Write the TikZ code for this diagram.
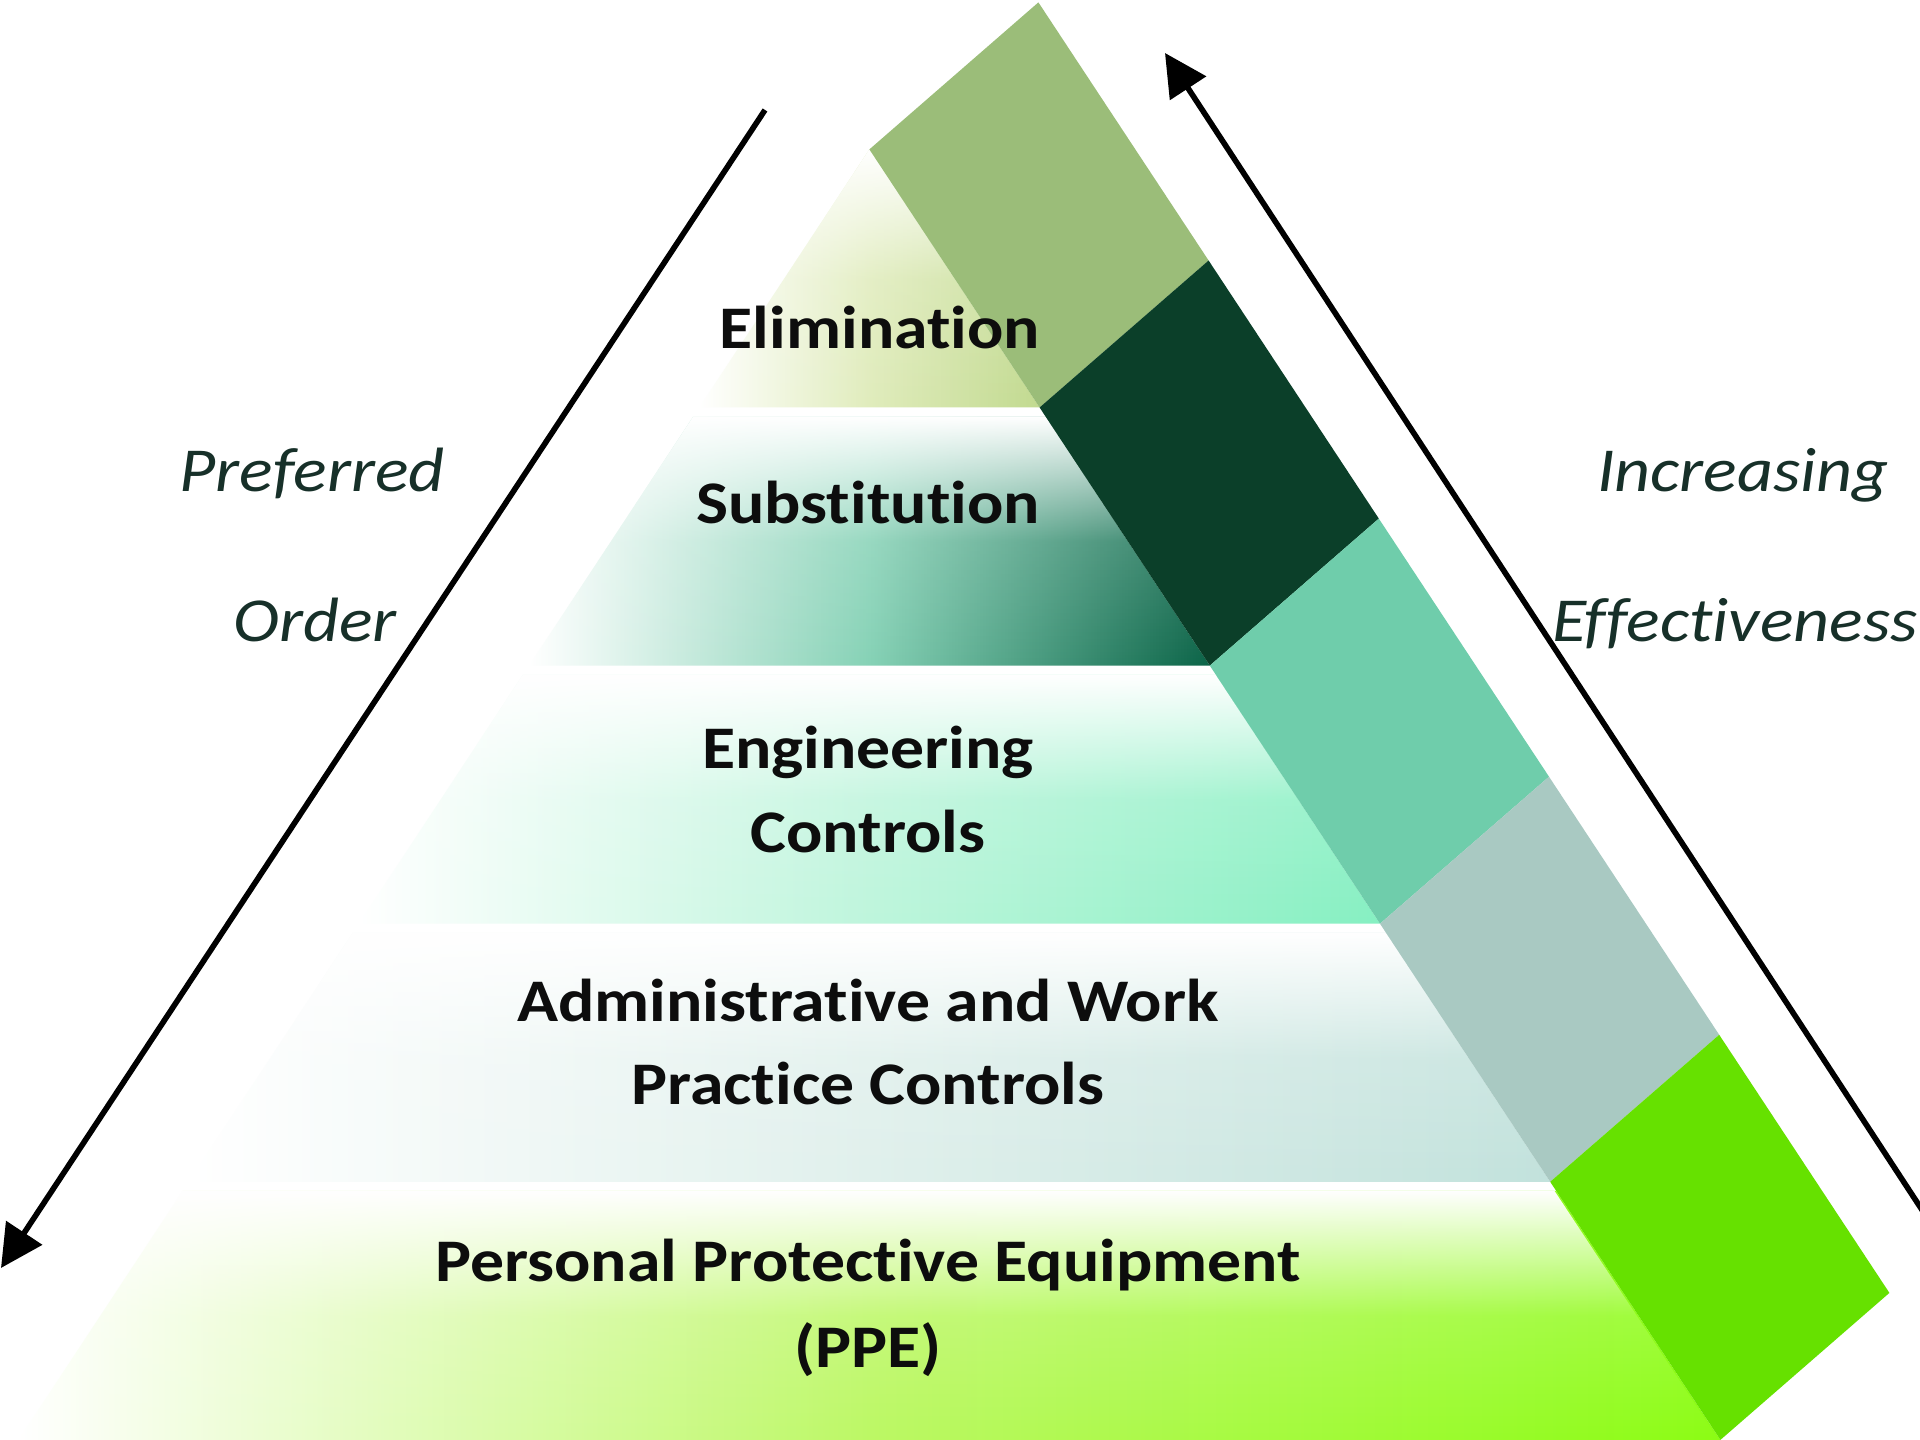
\documentclass[tikz,border=0pt]{standalone}
\usepackage{fontspec}
\setmainfont{Carlito}[FakeStretch=1.12, Ligatures=CommonOff]
\usepackage[dvipsnames, svgnames]{xcolor}
\usepackage{tikz}
\usetikzlibrary{arrows.meta}
\usetikzlibrary{calc}
\usetikzlibrary{fadings}

\definecolor{elimcol}{HTML}{C2DA90}
\definecolor{elimmid}{HTML}{E0ECBC}
\definecolor{substcol}{HTML}{0C6448}
\definecolor{substmid}{HTML}{86D2B6}
\definecolor{engcol}{HTML}{86F0C2}
\definecolor{engmid}{HTML}{BEF5DC}
\definecolor{admincol}{HTML}{C2E2DC}
\definecolor{adminmid}{HTML}{E0F0EC}
\definecolor{ppecol}{HTML}{8CFC14}
\definecolor{ppemid}{HTML}{BCF864}
\definecolor{bandA}{HTML}{9BBD79}
\definecolor{bandB}{HTML}{0B3F29}
\definecolor{bandC}{HTML}{6FCDAB}
\definecolor{bandD}{HTML}{A9C9C2}
\definecolor{bandE}{HTML}{66E100}
\definecolor{sidetext}{HTML}{173029}

% white at the top of a tier, clear from the middle down
\tikzfading[name=tierfade, top color=transparent!0, bottom color=transparent!100, middle color=transparent!85]

\tikzset{
  tierlabel/.style={font=\fontsize{17.2}{20}\selectfont\bfseries, text=black!95, inner sep=0pt, anchor=base},
  sidelabel/.style={font=\fontsize{17.8}{20}\selectfont\itshape, text=sidetext, inner sep=0pt, anchor=base},
  bigarrow/.style={line width=1.6pt, -{Triangle[length=12pt,width=12pt]}},
}

\begin{document}
\begin{tikzpicture}[x=0.01cm, y=-0.01cm]
\useasboundingbox (0,0) rectangle (1920,1440);
\clip (0,0) rectangle (1920,1440);
\fill[white] (0,0) rectangle (1920,1440);

% tiers of the pyramid, apex at (869.4,149.4), sides at slope 0.6594
\foreach \ytop/\ybot/\col/\mid in {149.4/407.5/elimcol/elimmid, 417/665.6/substcol/substmid, 675/923.7/engcol/engmid, 933/1181.8/admincol/adminmid, 1191/1440/ppecol/ppemid} {
  \pgfmathsetmacro{\dtop}{0.6594*(\ytop-149.4)}
  \pgfmathsetmacro{\dbot}{0.6594*(\ybot-149.4)}
  \shade[left color=white, right color=\col, middle color=\mid] % middle last, or it is reset
    (869.4-\dtop,\ytop) -- (869.4+\dtop,\ytop) -- (869.4+\dbot,\ybot) -- (869.4-\dbot,\ybot) -- cycle;
  \fill[white, path fading=tierfade]
    (869.4-\dtop,\ytop) -- (869.4+\dtop,\ytop) -- (869.4+\dbot,\ybot) -- (869.4-\dbot,\ybot) -- cycle;
}

% slanted strip of coloured blocks
\foreach \k/\col in {0/bandA, 1/bandB, 2/bandC, 3/bandD, 4/bandE} {
  \coordinate (L\k) at ($(869.4,149.4)+\k*(170.2,258.1)$);
  \coordinate (M\k) at ($(L\k)+(170.2,258.1)$);
  \fill[\col] (L\k) -- (M\k) -- ($(M\k)+(169,-147)$) -- ($(L\k)+(169,-147)$) -- cycle;
}

% labels of the tiers
\node[tierlabel] (elim) at (880,349) {Elimination};
\node[tierlabel] (subst) at (868,524) {Substitution};
\node[tierlabel] (eng1) at (868,769) {Engineering};
\node[tierlabel] (eng2) at (868,853) {Controls};
\node[tierlabel] (adm1) at (868,1022) {Administrative and Work};
\node[tierlabel] (adm2) at (868,1105) {Practice Controls};
\node[tierlabel] (ppe1) at (868,1282) {Personal Protective Equipment};
\node[tierlabel] (ppe2) at (868,1367) {(PPE)};

% side arrows and their texts
\coordinate (ordtop) at (765,110);
\coordinate (ordtip) at (1,1268);
\draw[bigarrow] (ordtop) -- (ordtip);
\coordinate (efftail) at (1945,1245);
\coordinate (efftip) at (1165,53);
\draw[bigarrow] (efftail) -- (efftip);

\node[sidelabel] (pref) at (312,492) {Preferred};
\node[sidelabel] (order) at (315,642) {Order};
\node[sidelabel] (incr) at (1743,492) {Increasing};
\node[sidelabel, anchor=base west] (effect) at (1552,642) {Effectiveness};
\end{tikzpicture}
\end{document}
